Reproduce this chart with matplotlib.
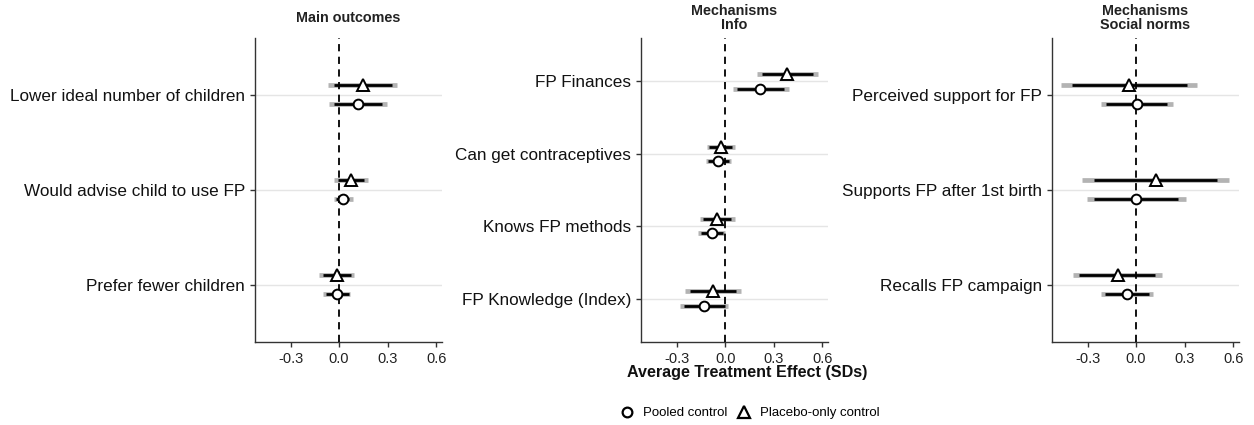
import matplotlib
matplotlib.use("Agg")
import matplotlib.pyplot as plt
from matplotlib.lines import Line2D

plt.rcParams['font.family'] = ['Liberation Sans', 'DejaVu Sans']

# Panel 1: main outcomes (top to bottom)
main_labels = ["Lower ideal number of children", "Would advise child to use FP", "Prefer fewer children"]
main_pool_est = [0.115, 0.026, -0.014]
main_pool_lo90 = [-0.033, -0.019, -0.080]
main_pool_hi90 = [0.265, 0.064, 0.064]
main_pool_lo95 = [-0.060, -0.033, -0.097]
main_pool_hi95 = [0.294, 0.084, 0.070]
main_plac_est = [0.146, 0.074, -0.015]
main_plac_lo90 = [-0.029, -0.008, -0.101]
main_plac_hi90 = [0.325, 0.152, 0.074]
main_plac_lo95 = [-0.066, -0.029, -0.122]
main_plac_hi95 = [0.358, 0.177, 0.094]

# Panel 2: mechanisms - info
info_labels = ["FP Finances", "Can get contraceptives", "Knows FP methods", "FP Knowledge (Index)"]
info_pool_est = [0.216, -0.045, -0.084, -0.132]
info_pool_lo90 = [0.074, -0.107, -0.148, -0.255]
info_pool_hi90 = [0.366, 0.021, -0.014, -0.004]
info_pool_lo95 = [0.047, -0.121, -0.168, -0.277]
info_pool_hi95 = [0.392, 0.037, 0.000, 0.016]
info_plac_est = [0.382, -0.027, -0.049, -0.076]
info_plac_lo90 = [0.228, -0.097, -0.138, -0.220]
info_plac_hi90 = [0.545, 0.041, 0.039, 0.068]
info_plac_lo95 = [0.195, -0.111, -0.158, -0.251]
info_plac_hi95 = [0.575, 0.058, 0.058, 0.095]

# Panel 3: mechanisms - social norms
norm_labels = ["Perceived support for FP", "Supports FP after 1st birth", "Recalls FP campaign"]
norm_pool_est = [0.006, 0.000, -0.057]
norm_pool_lo90 = [-0.184, -0.259, -0.190]
norm_pool_hi90 = [0.194, 0.261, 0.078]
norm_pool_lo95 = [-0.218, -0.306, -0.216]
norm_pool_hi95 = [0.231, 0.310, 0.102]
norm_plac_est = [-0.045, 0.122, -0.112]
norm_plac_lo90 = [-0.394, -0.259, -0.351]
norm_plac_hi90 = [0.312, 0.502, 0.118]
norm_plac_lo95 = [-0.465, -0.333, -0.392]
norm_plac_hi95 = [0.378, 0.576, 0.163]

xticks = [-0.3, 0.0, 0.3, 0.6]
xticklabels = ["-0.3", "0.0", "0.3", "0.6"]

panels = [
    ("Main outcomes", main_labels,
     (main_pool_est, main_pool_lo90, main_pool_hi90, main_pool_lo95, main_pool_hi95),
     (main_plac_est, main_plac_lo90, main_plac_hi90, main_plac_lo95, main_plac_hi95)),
    ("Mechanisms\nInfo", info_labels,
     (info_pool_est, info_pool_lo90, info_pool_hi90, info_pool_lo95, info_pool_hi95),
     (info_plac_est, info_plac_lo90, info_plac_hi90, info_plac_lo95, info_plac_hi95)),
    ("Mechanisms\nSocial norms", norm_labels,
     (norm_pool_est, norm_pool_lo90, norm_pool_hi90, norm_pool_lo95, norm_pool_hi95),
     (norm_plac_est, norm_plac_lo90, norm_plac_hi90, norm_plac_lo95, norm_plac_hi95)),
]

fig = plt.figure(figsize=(12.54, 4.25), dpi=100)
lefts = [0.2033, 0.5112, 0.8389]
bottom, width, height = 0.1953, 0.149, 0.7153
off = 0.1

for left, (title, labels, pool, plac) in zip(lefts, panels):
    ax = fig.add_axes([left, bottom, width, height])
    n = len(labels)
    ys = list(range(n, 0, -1))
    for (est, lo90, hi90, lo95, hi95), d, mk, ms in [(pool, -off, 'o', 7), (plac, off, '^', 8)]:
        yy = [y + d for y in ys]
        ax.hlines(yy, lo95, hi95, color='#b3b3b3', lw=3.4, zorder=2)
        ax.hlines(yy, lo90, hi90, color='black', lw=2.0, zorder=3)
        ax.plot(est, yy, ls='none', marker=mk, ms=ms, mfc='white', mec='black',
                mew=1.4, zorder=4)
    ax.axvline(0, color='black', ls=(0, (4, 3)), lw=1.3, zorder=3)
    ax.set_xlim(-0.52, 0.635)
    ax.set_ylim(0.4, n + 0.6)
    ax.set_yticks(ys)
    ax.set_yticklabels(labels, fontsize=12.3, color='#111111')
    ax.set_xticks(xticks)
    ax.set_xticklabels(xticklabels, fontsize=10.5, color='#222222')
    ax.grid(axis='y', color='#e5e5e5', lw=1)
    ax.set_axisbelow(True)
    for s in ['top', 'right']:
        ax.spines[s].set_visible(False)
    for s in ['left', 'bottom']:
        ax.spines[s].set_color('#333333')
        ax.spines[s].set_linewidth(1)
    ax.tick_params(axis='both', length=3.5, color='#333333', width=1)
    # panel title, vertically centred in a common strip above the axes
    fig.text(left + width / 2, 1 - 18 / 425, title, fontsize=10.4, fontweight='bold',
             color='#222222', ha='center', va='center', linespacing=1.05)

fig.text(747 / 1254, 1 - 373 / 425, "Average Treatment Effect (SDs)", fontsize=11.6,
         fontweight='bold', ha='center', va='center', color='#111111')

handles = [
    Line2D([], [], ls='none', marker='o', ms=7, mfc='white', mec='black', mew=1.6),
    Line2D([], [], ls='none', marker='^', ms=8, mfc='white', mec='black', mew=1.6),
]
fig.legend(handles, ["Pooled control", "Placebo-only control"], loc='center',
           bbox_to_anchor=(750 / 1254, 1 - 413 / 425), ncol=2, frameon=False,
           fontsize=9.5, handlelength=1, handletextpad=0.7, columnspacing=0.8)

fig.savefig("out.png", dpi=100)
